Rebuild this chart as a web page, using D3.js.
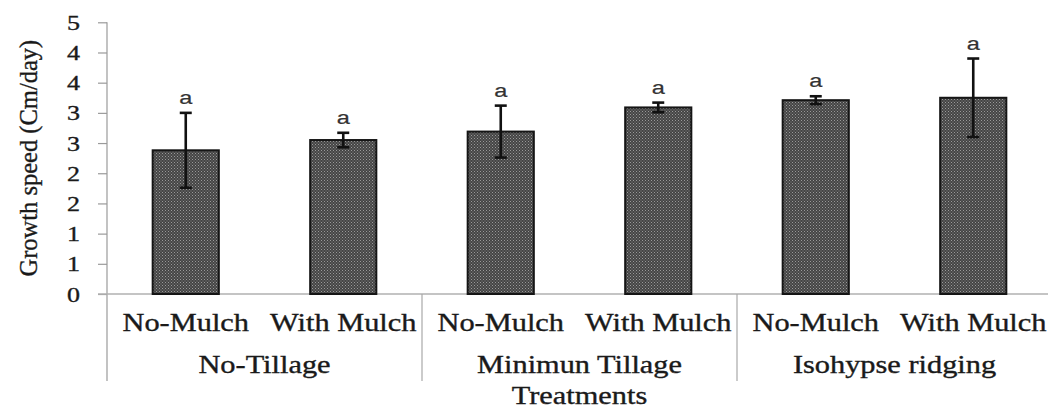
<!DOCTYPE html>
<html>
<head>
<meta charset="utf-8">
<script src="https://cdn.jsdelivr.net/npm/d3@7"></script>
<style>
  html, body { margin: 0; padding: 0; background: #fff; }
  svg { display: block; }
</style>
</head>
<body>
<script>
// Tillage treatments, each split by mulching
const groups = ["No-Tillage", "Minimun Tillage", "Isohypse ridging"];
const subgroups = ["No-Mulch", "With Mulch"];
// Mean growth speed (Cm/day) and standard error, in group/subgroup order
const means = [2.38, 2.55, 2.69, 3.09, 3.21, 3.25];
const errors = [0.62, 0.12, 0.43, 0.08, 0.065, 0.65];
const letters = ["a", "a", "a", "a", "a", "a"];
// Y axis ticks and their printed (rounded) labels
const tickValues = [0, 0.5, 1, 1.5, 2, 2.5, 3, 3.5, 4, 4.5];
const tickLabels = ["0", "1", "1", "2", "2", "3", "3", "4", "4", "5"];

const W = 1048, H = 409;
const plotL = 107, plotR = 1052, plotT = 22.3, plotB = 294;
const stretch = 1.24;            // wide serif lettering
const serif = "'Liberation Serif','Times New Roman',serif";
const sans = "'Liberation Sans',Arial,sans-serif";
const ink = "#1a1a1a";

const rows = [];
groups.forEach((g, gi) => subgroups.forEach((s, si) => {
  const i = gi * subgroups.length + si;
  rows.push({ key: g + "|" + s, group: g, sub: s, mean: means[i], err: errors[i], letter: letters[i] });
}));

const svg = d3.select("body").append("svg").attr("width", W).attr("height", H);

// Dotted dark fill used by the bars
const defs = svg.append("defs");
const pat = defs.append("pattern").attr("id", "dots")
  .attr("patternUnits", "userSpaceOnUse").attr("width", 3).attr("height", 3);
pat.append("rect").attr("width", 3).attr("height", 3).attr("fill", "#454545");
pat.append("rect").attr("x", 0).attr("y", 0).attr("width", 1).attr("height", 1).attr("fill", "#9a9a9a");
pat.append("rect").attr("x", 1.5).attr("y", 1.5).attr("width", 1).attr("height", 1).attr("fill", "#8a8a8a");

const x = d3.scaleBand().domain(rows.map(d => d.key)).range([plotL, plotR])
  .paddingInner(0.58).paddingOuter(0.29);
const xg = d3.scaleBand().domain(groups).range([plotL, plotR]);
const y = d3.scaleLinear().domain([0, 4.5]).range([plotB, plotT]);

// Horizontal text drawn with a horizontal stretch around its anchor point
function stretchedText(sel, tx, ty, txt, size, family, anchor) {
  return sel.append("text")
    .attr("transform", `translate(${tx},${ty}) scale(${stretch},1)`)
    .attr("text-anchor", anchor)
    .attr("font-family", family).attr("font-size", size)
    .attr("fill", ink).attr("stroke", ink).attr("stroke-width", 0.35)
    .text(txt);
}

// Y axis
const yAxis = d3.axisLeft(y).tickValues(tickValues).tickSize(9).tickFormat("");
const gy = svg.append("g").attr("transform", `translate(${plotL},0)`).call(yAxis);
gy.select(".domain").remove();
gy.selectAll(".tick line").attr("stroke", "#9a9a9a").attr("stroke-width", 1.2);
svg.append("line").attr("x1", plotL).attr("x2", plotL).attr("y1", plotT).attr("y2", 381)
  .attr("stroke", "#9a9a9a").attr("stroke-width", 1.2);
tickValues.forEach((v, i) => {
  stretchedText(svg, 80, y(v) + 7.5, tickLabels[i], 21, serif, "end");
});

// Baseline
svg.append("line").attr("x1", plotL - 9).attr("x2", W).attr("y1", y(0)).attr("y2", y(0))
  .attr("stroke", "#b0b0b0").attr("stroke-width", 1.5);

// Group separators on the category axis
groups.slice(1).forEach(g => {
  svg.append("line").attr("x1", xg(g)).attr("x2", xg(g)).attr("y1", y(0)).attr("y2", 381)
    .attr("stroke", "#a8a8a8").attr("stroke-width", 1.2);
});

// Bars
svg.append("g").selectAll("rect").data(rows).join("rect")
  .attr("x", d => x(d.key)).attr("width", x.bandwidth())
  .attr("y", d => y(d.mean)).attr("height", d => y(0) - y(d.mean))
  .attr("fill", "url(#dots)").attr("stroke", "#151515").attr("stroke-width", 2);

// Error bars
const eb = svg.append("g").attr("stroke", "#111").attr("stroke-width", 2.6);
rows.forEach(d => {
  const cx = x(d.key) + x.bandwidth() / 2;
  eb.append("line").attr("x1", cx).attr("x2", cx).attr("y1", y(d.mean + d.err)).attr("y2", y(d.mean - d.err));
  [d.mean + d.err, d.mean - d.err].forEach(v => {
    eb.append("line").attr("x1", cx - 6).attr("x2", cx + 6).attr("y1", y(v)).attr("y2", y(v));
  });
});

// Significance letters
rows.forEach(d => {
  const cx = x(d.key) + x.bandwidth() / 2;
  stretchedText(svg, cx, y(d.mean + d.err) - 9, d.letter, 19, sans, "middle")
    .attr("fill", "#333").attr("stroke", "#333").attr("stroke-width", 0.2);
});

// Category labels: subgroups then groups
rows.forEach(d => {
  stretchedText(svg, x(d.key) + x.bandwidth() / 2, 331, d.sub, 24.5, serif, "middle");
});
groups.forEach(g => {
  stretchedText(svg, xg(g) + xg.bandwidth() / 2, 373, g, 24.5, serif, "middle");
});

// Axis titles
stretchedText(svg, (plotL + plotR) / 2, 404, "Treatments", 24.5, serif, "middle");
svg.append("text")
  .attr("transform", `translate(37,${(plotT + plotB) / 2}) rotate(-90)`)
  .attr("text-anchor", "middle")
  .attr("font-family", serif).attr("font-size", 24.5)
  .attr("fill", ink).attr("stroke", ink).attr("stroke-width", 0.35)
  .text("Growth speed (Cm/day)");
</script>
</body>
</html>
